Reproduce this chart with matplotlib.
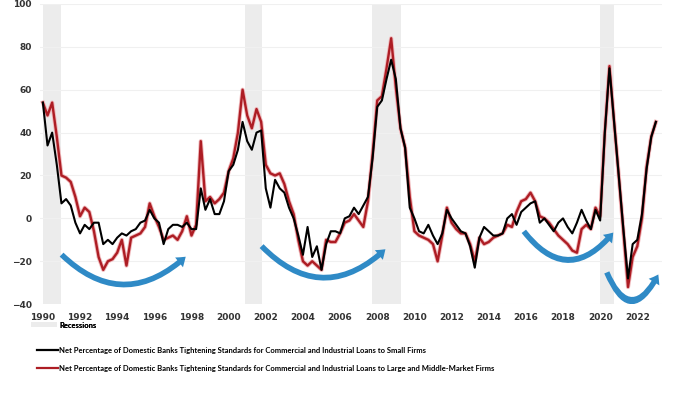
import matplotlib.pyplot as plt
import matplotlib.patheffects as pe
from matplotlib.patches import FancyArrowPatch, Patch
import numpy as np

# Net % of banks tightening C&I standards, quarterly from 1990 Q1 view start
start_year = 1990
small_firms = [
    54, 34, 40, 25, 7, 9, 6, -2, -7, -3, -5, -2,
    -2, -12, -10, -12, -9, -7, -8, -6, -5, -2, -1, 4,
    0, -2, -12, -5, -3, -3, -4, -2, -5, -5, 14, 4,
    9, 2, 2, 8, 22, 25, 32, 45, 36, 32, 40, 41,
    14, 5, 18, 14, 12, 5, 0, -8, -17, -4, -18, -13,
    -24, -12, -6, -6, -7, 0, 1, 5, 2, 6, 10, 28,
    52, 55, 65, 74, 65, 42, 33, 5, 0, -6, -7, -3,
    -8, -12, -7, 4, 0, -3, -6, -7, -13, -23, -9, -4,
    -6, -8, -8, -7, 0, 2, -3, 3, 5, 7, 8, -2,
    0, -3, -6, -2, 0, -4, -7, -2, 4, -1, -5, 4,
    -1, 40, 70, 45, 20, -5, -28, -12, -10, 2, 23, 38,
    45,
]
large_mid_firms = [
    54, 48, 54, 38, 20, 19, 17, 10, 1, 5, 3, -6,
    -18, -24, -20, -19, -16, -10, -22, -9, -8, -7, -4, 7,
    1, -4, -10, -9, -8, -10, -6, 1, -8, -3, 36, 8,
    10, 7, 9, 12, 22, 28, 40, 60, 48, 42, 51, 45,
    25, 21, 20, 21, 16, 8, 2, -10, -20, -22, -20, -22,
    -24, -10, -11, -11, -7, -2, -1, 2, -1, -4, 8, 30,
    55, 57, 70, 84, 61, 42, 33, 10, -6, -8, -9, -10,
    -12, -20, -8, 5, -2, -5, -7, -7, -12, -20, -9, -12,
    -11, -9, -8, -7, -3, -4, 3, 8, 9, 12, 8, 1,
    0, -2, -5, -8, -10, -12, -15, -16, -5, -3, -5, 5,
    1, 40, 71, 45, 20, -6, -32, -18, -13, 0, 24, 38,
    45,
]
recessions = [(1990.0, 1990.95), (2000.9, 2001.8), (2007.7, 2009.3), (2020.0, 2020.75)]
year_ticks = list(range(1990, 2023, 2))
y_ticks = list(range(-40, 101, 20))

# curved "cycle" arrows: (start, end, curvature)
arrows = [
    ((1990.9, -16), (1997.8, -17), 0.48),
    ((2001.67, -12), (2008.55, -13.5), 0.5),
    ((2015.8, -5), (2020.8, -5.6), 0.65),
    ((2020.3, -24), (2023.2, -25), 1.1),
]

t = start_year + np.arange(len(small_firms)) / 4

fig = plt.figure(figsize=(7, 3.94), dpi=100)
ax = fig.add_axes([0.057, 0.228, 0.889, 0.762])

for a, b in recessions:
    ax.axvspan(a, b, color='#ececec', lw=0, zorder=0)

ax.plot(t, large_mid_firms, color='#ad1d24', lw=1.7, zorder=3,
        path_effects=[pe.Stroke(linewidth=3.0, foreground='#f0b8bb'), pe.Normal()])
ax.plot(t, small_firms, color='black', lw=1.5, zorder=4)

for (x0, y0), (x1, y1), rad in arrows:
    arr = FancyArrowPatch((x0, y0), (x1, y1), connectionstyle=f"arc3,rad={rad}",
                          arrowstyle="simple,head_width=0.5,head_length=0.35,tail_width=0.22",
                          mutation_scale=18, color='#2f8ac6', lw=0, zorder=5)
    ax.add_patch(arr)

ax.set_xlim(1989.84, 2023.34)
ax.set_ylim(-40, 100)
ax.set_xticks(year_ticks)
ax.set_yticks(y_ticks)
ax.grid(axis='y', color='#f0f0f0', lw=0.8)
ax.set_axisbelow(True)
for s in ax.spines.values():
    s.set_visible(False)
ax.tick_params(length=0, labelsize=6.5, colors='#333333', pad=6)
for lab in ax.get_xticklabels() + ax.get_yticklabels():
    lab.set_fontweight('bold')

font = {'family': 'Lato', 'size': 5.5, 'weight': 'bold'}

leg1 = fig.legend([Patch(color='#ececec', lw=0)], ["Recessions"], loc='center left',
                  bbox_to_anchor=(0.035, 0.175), frameon=False, handlelength=3.4,
                  handleheight=0.6, handletextpad=0.3, prop=font)
line_handles = [
    plt.Line2D([], [], color='black', lw=1.6),
    plt.Line2D([], [], color='#ad1d24', lw=1.6),
]
line_labels = [
    "Net Percentage of Domestic Banks Tightening Standards for Commercial and Industrial Loans to Small Firms",
    "Net Percentage of Domestic Banks Tightening Standards for Commercial and Industrial Loans to Large and Middle-Market Firms",
]
fig.legend(line_handles, line_labels, loc='upper left', bbox_to_anchor=(0.045, 0.133),
           frameon=False, handlelength=2.8, handletextpad=0.05, labelspacing=1.45,
           borderpad=0.2, prop=font)
fig.add_artist(leg1)

fig.savefig('out.png', dpi=100, facecolor='white')
